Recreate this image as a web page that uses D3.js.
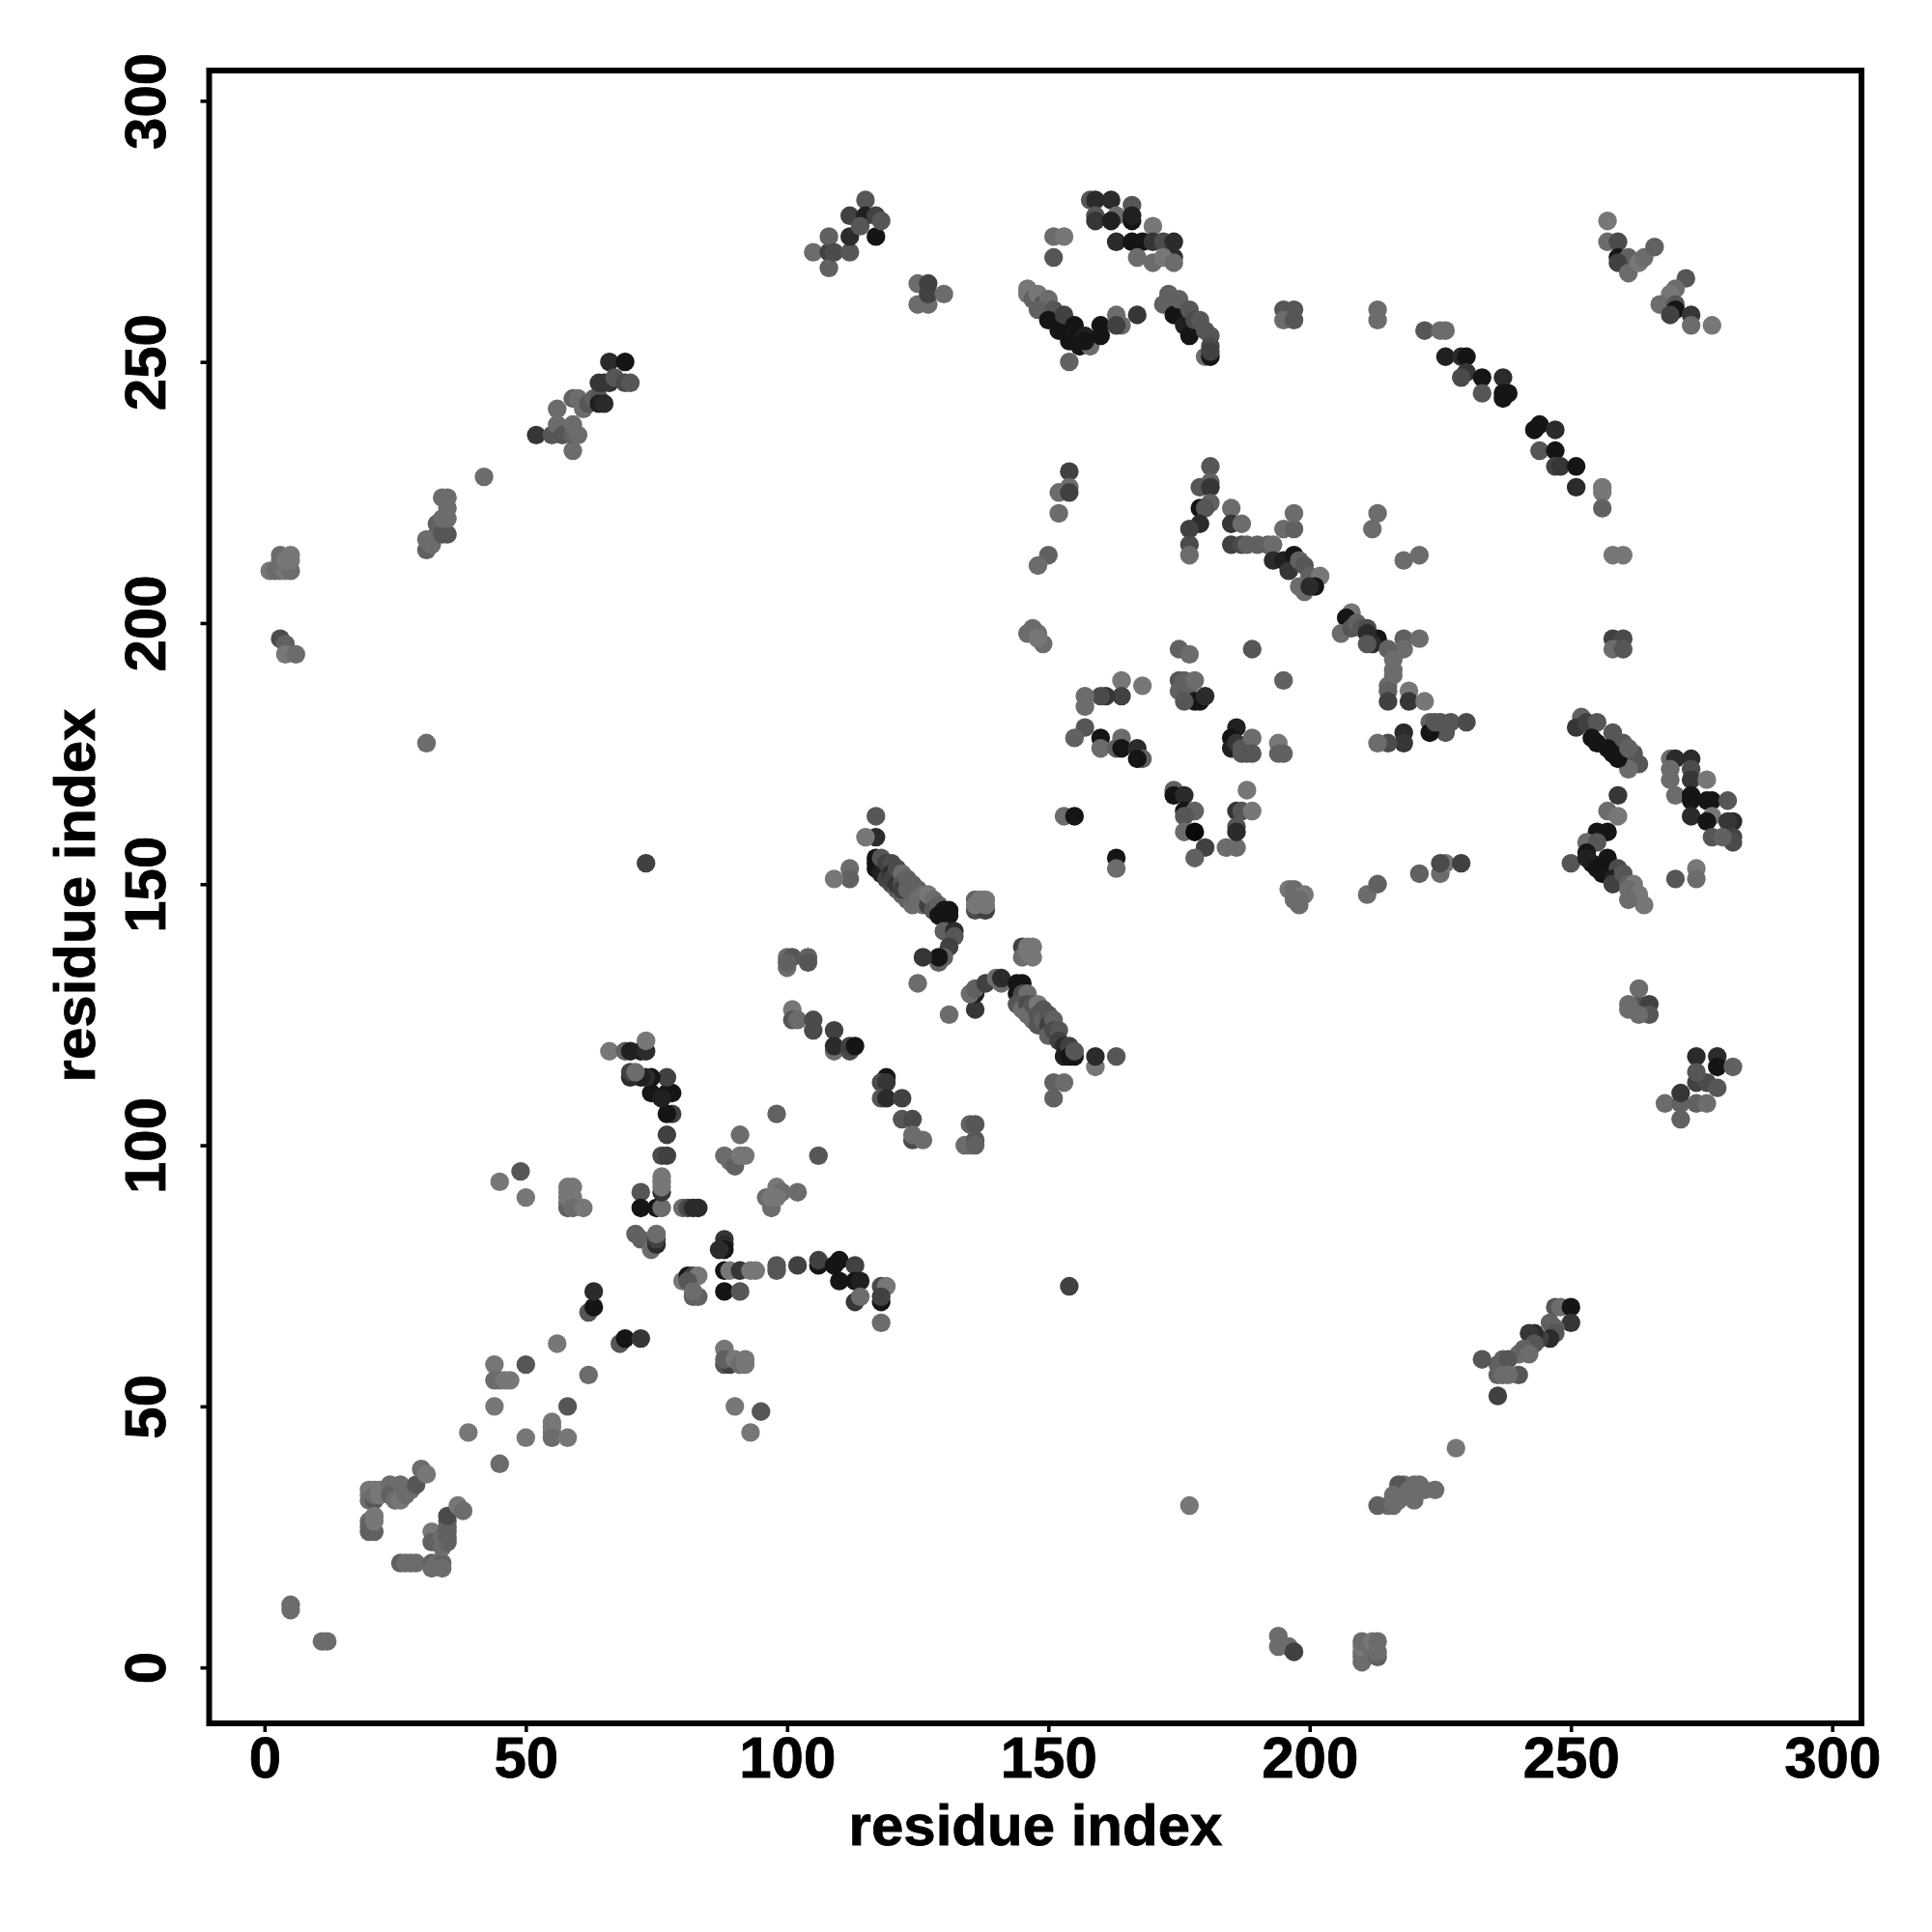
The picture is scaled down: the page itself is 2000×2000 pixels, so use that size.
<!DOCTYPE html>
<html><head><meta charset="utf-8">
<script src="https://cdn.jsdelivr.net/npm/d3@7"></script>
<style>html,body{margin:0;background:#fff}svg{display:block}</style>
</head><body><svg id="c" width="2000" height="2000"></svg>
<script>
// each entry: [residue i, residue j, contact strength 0 (weak) .. 10 (strong)]
const nearTerminus=[[5,12,1],[5,11,1],[11,5,1],[12,5,1],[1,210,0],[2,210,1],[3,210,1],[4,210,0],[5,210,1],[3,212,1],[3,213,1],[5,213,0],[4,212,0],[5,212,0],[3,197,4],[4,196,2],[4,194,0],[6,194,1],[31,177,1],[177,31,0],[210,1,1],[210,2,1],[210,3,1],[210,4,0],[210,5,1],[212,3,1],[212,5,0],[213,2,2],[213,3,1],[213,5,1],[194,6,1],[194,4,1],[196,4,1],[197,3,5]];
const firstBlock=[[20,34,0],[20,33,0],[20,32,1],[21,32,3],[21,34,0],[21,33,1],[22,34,0],[22,33,0],[24,35,1],[24,33,2],[25,32,1],[26,32,0],[26,35,1],[27,33,1],[28,34,1],[29,35,3],[30,38,1],[31,37,0],[20,28,1],[20,27,2],[20,26,2],[21,26,2],[21,28,0],[21,29,0],[26,20,2],[27,20,1],[28,20,1],[29,20,1],[32,20,2],[33,20,1],[34,20,2],[34,19,1],[32,19,1],[32,26,0],[32,24,2],[34,23,1],[35,24,2],[34,25,1],[35,25,2],[35,26,2],[35,27,2],[35,28,2],[35,29,4],[37,31,0],[38,30,1],[39,45,0],[44,58,0],[44,55,1],[45,55,1],[46,55,0],[47,55,0],[50,58,3],[44,50,0],[45,39,1],[50,44,0],[55,47,0],[55,46,0],[55,45,0],[55,44,1],[58,50,3],[58,44,0],[62,56,1],[56,62,0],[62,68,3],[63,69,9],[63,72,7],[68,62,3],[69,63,9],[72,63,6]];
const strandA=[[45,93,0],[49,95,3],[50,90,0],[58,89,1],[58,88,2],[58,92,0],[58,91,0],[58,90,0],[59,92,0],[59,90,0],[59,88,1],[61,88,0],[72,91,3],[72,88,9],[75,88,9],[76,88,1],[76,94,0],[76,93,0],[76,91,6],[76,92,0],[71,83,2],[72,82,2],[74,80,1],[75,81,7],[75,82,5],[75,83,1],[80,88,1],[81,88,4],[82,88,7],[83,88,7],[76,98,4],[77,98,5],[77,102,5],[78,106,5],[77,106,9],[78,110,9],[77,110,9],[74,110,9],[76,109,8],[77,113,5],[74,113,9],[73,113,7],[72,113,8],[70,113,7],[70,114,5],[71,114,1],[66,118,0],[69,118,2],[70,118,8],[72,118,8],[73,118,7],[73,120,0]];
const strandB=[[88,82,6],[88,81,7],[88,80,9],[87,80,7],[80,74,0],[81,75,9],[82,75,5],[83,75,0],[81,74,3],[82,71,2],[83,71,2],[82,72,1],[88,76,9],[89,76,0],[91,76,6],[93,76,0],[94,76,0],[88,72,9],[91,72,3],[98,77,3],[98,76,3],[102,77,5],[106,77,9],[106,78,5],[109,77,9],[110,78,9],[110,74,9],[113,77,5],[113,74,9],[114,74,8],[113,70,6],[114,71,1],[118,73,4],[119,73,0],[118,70,9],[118,71,5],[118,66,1],[88,61,0],[88,58,3],[89,58,5],[88,59,2],[90,59,0],[91,58,1],[92,59,0],[92,58,0],[90,50,0],[95,49,3],[93,45,0]];
const upperDiag=[[88,98,1],[89,97,1],[90,96,2],[91,98,0],[92,98,0],[91,102,1],[98,106,2],[106,98,3],[102,91,1],[98,92,0],[99,91,1],[96,90,1],[97,88,1],[97,89,1],[98,90,0],[97,90,0],[117,163,3],[117,159,7],[115,159,0],[112,153,1],[112,151,2],[109,151,0]];
const diagC=[[117,155,9],[117,154,9],[117,153,9],[118,152,8],[119,151,5],[120,150,4],[121,149,3],[122,148,2],[123,147,2],[124,146,1],[118,155,3],[119,154,5],[120,154,4],[120,152,7],[120,151,5],[121,153,4],[121,150,6],[122,152,1],[122,150,3],[122,149,5],[123,151,2],[123,149,2],[124,150,2],[124,148,2],[125,149,2],[125,147,1],[126,148,1],[126,146,1],[127,146,5],[127,148,0],[128,147,1],[128,145,3],[129,146,2],[129,144,9],[130,145,9],[130,144,9],[131,145,9],[131,144,9],[130,141,2],[132,141,7],[132,140,3],[131,138,5],[130,136,2],[129,135,2],[129,136,9],[126,136,6],[125,131,1]];
const blockD=[[136,147,2],[138,147,0],[136,145,4],[138,145,5],[137,147,0],[136,146,0],[138,146,0],[100,136,1],[101,136,3],[104,136,2],[100,134,1],[100,135,2],[104,135,3],[101,126,0],[101,124,3],[102,124,1],[105,124,4],[105,122,4],[109,122,5],[109,118,1],[109,119,7],[112,118,4],[112,119,5],[113,119,9],[119,113,9],[118,112,4],[119,112,6],[118,109,3],[119,109,7],[122,109,5],[122,105,3],[124,105,4],[124,101,4],[124,102,1],[126,101,1],[134,100,1],[135,100,1],[136,101,3],[136,100,2],[135,104,2],[136,104,3],[131,125,1],[136,126,6],[136,129,8],[135,129,1],[136,130,2],[138,131,5],[140,132,1],[141,131,1],[141,132,7]];
const diagE=[[144,131,9],[145,131,9],[144,129,9],[145,129,4],[146,129,1],[144,127,3],[145,126,1],[146,127,4],[146,125,1],[147,127,3],[147,124,1],[148,127,0],[148,125,3],[148,123,3],[149,126,3],[149,124,2],[150,125,3],[150,123,5],[150,121,2],[151,124,2],[151,122,4],[152,122,3],[152,120,5],[153,119,7],[153,117,8],[154,119,5],[154,117,9],[155,117,9],[155,118,3],[159,115,0],[159,117,7],[163,117,3],[151,112,2],[153,112,1],[151,109,2],[145,138,5],[146,138,0],[147,138,0],[145,136,1],[147,136,0],[146,137,0]];
const topLeftArc=[[31,214,2],[31,216,1],[32,215,1],[33,217,1],[33,219,2],[34,217,3],[35,217,3],[34,220,1],[35,220,1],[35,222,1],[34,224,1],[35,224,1],[42,228,1],[52,236,6],[55,236,3],[56,238,1],[57,236,3],[56,241,1],[59,233,1],[59,236,2],[59,238,1],[60,236,1],[59,243,2],[60,243,1],[61,241,1],[62,242,3],[63,243,2],[64,243,3],[64,246,6],[65,246,6],[66,246,6],[66,250,7],[67,247,3],[69,250,9],[69,246,4],[70,246,3],[64,242,8],[65,242,7]];
const lowerRightArc=[[247,69,3],[248,69,1],[250,69,9],[250,66,6],[246,66,2],[247,65,2],[247,64,3],[246,63,7],[244,63,5],[243,64,7],[242,64,6],[243,62,3],[240,60,1],[241,61,2],[242,60,1],[240,56,3],[237,59,2],[236,58,2],[238,59,3],[233,59,3],[236,56,2],[237,56,1],[238,56,1],[236,52,5],[228,42,0],[224,34,1],[222,34,1],[221,35,1],[220,32,1],[220,35,1],[218,35,1],[217,35,3],[217,32,1],[216,33,1],[215,31,1],[213,31,2],[216,31,1],[219,34,1]];
const upperRowA=[[105,271,1],[108,271,5],[108,268,2],[108,274,2],[109,271,4],[112,271,3],[112,274,7],[112,278,5],[115,281,3],[115,278,8],[117,278,5],[117,274,9],[114,276,3],[118,277,3],[125,265,1],[125,261,1],[127,265,5],[127,261,1],[127,263,5],[130,263,1],[158,281,3],[159,281,7],[162,281,7],[166,280,3],[159,278,3],[159,277,6],[163,278,1],[162,277,8],[166,277,9],[166,278,8],[170,276,0],[163,273,7],[166,273,9],[168,273,9],[170,273,6],[172,273,4],[174,273,7],[174,270,7],[167,270,1],[170,269,1],[172,270,0],[174,269,1],[151,274,1],[153,274,0],[151,270,3]];
const diagF=[[146,264,0],[146,263,0],[147,262,2],[148,263,0],[149,261,3],[150,262,1],[148,260,2],[151,260,3],[150,258,9],[152,256,9],[153,259,5],[154,254,9],[155,257,9],[156,253,9],[157,255,8],[158,253,1],[157,254,9],[160,257,9],[160,255,9],[163,259,1],[164,257,1],[163,257,5],[167,259,6],[154,250,2],[172,261,2],[173,263,2],[174,259,9],[175,262,2],[176,257,8],[177,260,3],[177,255,9],[178,258,4],[179,258,3],[180,256,3],[181,255,3],[180,251,1],[181,251,9],[181,253,4],[181,252,5],[195,260,3],[197,260,3],[195,258,1],[197,258,3],[213,260,1],[213,258,1],[222,256,3],[225,256,1],[226,256,1],[226,251,8],[229,251,7],[230,251,9],[230,248,6],[229,247,4],[233,247,9],[237,247,7],[233,244,3],[237,243,9],[238,244,9],[237,244,9]];
const upperRight=[[244,238,9],[243,237,9],[247,237,7],[244,233,3],[247,233,9],[247,230,5],[248,230,6],[251,230,9],[251,226,7],[256,226,0],[256,225,0],[256,222,2],[257,277,0],[257,273,1],[259,273,4],[259,270,9],[261,270,2],[259,269,5],[261,267,1],[263,269,0],[264,270,1],[266,272,2],[272,266,3],[270,264,1],[269,263,0],[267,261,1],[270,261,3],[270,260,9],[269,259,5],[273,259,6],[273,257,1],[277,257,0],[258,213,0],[260,213,0],[258,197,5],[260,197,4],[258,195,1],[260,195,3]];
const middleTop=[[154,229,5],[154,226,1],[152,225,1],[154,225,5],[152,221,1],[150,213,2],[148,211,1],[147,199,1],[146,198,1],[148,198,1],[149,196,1],[148,197,0],[181,230,3],[181,227,2],[179,226,3],[181,226,6],[181,223,2],[179,222,9],[180,222,3],[179,219,7],[177,218,5],[177,215,4],[177,213,1],[185,222,1],[185,219,6],[187,219,1],[185,215,5],[187,215,4],[188,215,2],[190,215,2],[192,215,2],[193,215,1],[195,218,1],[197,218,2],[197,221,1],[193,212,7],[195,212,8],[197,213,9],[196,210,6],[198,212,2],[199,211,3],[200,209,2],[202,209,0],[198,207,1],[201,207,9],[199,206,1],[200,207,7],[213,221,1],[212,218,1],[218,212,1],[221,213,1]];
const middleRight=[[208,202,0],[207,201,9],[206,198,1],[208,199,3],[209,200,2],[210,199,3],[211,199,4],[213,197,9],[211,198,7],[212,196,7],[211,196,3],[218,197,2],[221,197,1],[218,195,1],[215,195,2],[216,193,1],[216,191,1],[216,190,1],[215,188,1],[215,187,2],[215,185,5],[219,187,0],[219,185,6],[222,185,0],[223,181,2],[227,181,3],[230,181,4],[226,179,3],[223,179,9],[218,179,7],[218,177,6],[215,177,4],[213,177,1],[224,181,3],[225,181,3]];
const middleCore=[[189,195,3],[195,189,2],[175,195,2],[177,194,1],[175,189,3],[176,189,2],[177,188,2],[178,189,1],[175,187,2],[178,185,9],[179,185,9],[176,185,3],[180,186,7],[168,188,0],[164,189,0],[164,186,5],[161,186,6],[160,186,4],[157,186,1],[157,184,1],[157,180,3],[155,178,2],[160,178,9],[160,176,1],[164,178,1],[163,176,2],[164,176,9],[167,176,7],[168,174,2],[167,174,9],[186,180,8],[185,178,9],[185,176,8],[186,177,6],[187,176,3],[189,178,1],[188,175,3],[187,175,3],[189,175,3],[194,177,0],[195,175,2],[194,175,2]];
const lowerMiddle=[[153,163,1],[155,163,9],[163,155,9],[163,153,1],[174,168,2],[174,167,9],[176,167,7],[176,164,9],[178,164,2],[176,163,3],[176,160,1],[178,160,10],[180,157,5],[178,155,2],[184,157,1],[186,157,1],[186,164,6],[187,164,3],[189,164,0],[186,161,3],[186,160,7],[188,168,0],[196,149,0],[197,149,1],[199,148,0],[198,146,1],[197,147,1],[198,147,1],[211,148,1],[213,150,2],[221,152,2],[225,152,1],[226,154,0],[225,154,4],[229,154,5]];
const rightBlock=[[252,182,2],[251,180,6],[253,181,5],[255,181,3],[258,179,3],[260,177,3],[262,175,3],[263,173,3],[261,172,1],[255,177,9],[254,178,9],[257,176,9],[258,175,9],[259,174,9],[261,176,2],[269,174,1],[270,174,7],[273,174,7],[269,172,1],[269,170,1],[273,172,4],[273,170,6],[276,170,0],[270,167,1],[273,167,9],[273,166,9],[276,166,9],[277,166,9],[280,166,3],[273,163,7],[277,163,0],[276,162,9],[281,162,7],[280,162,6],[277,159,3],[281,159,5],[281,158,4],[279,159,2],[259,167,6],[257,164,1],[259,163,0],[257,160,9],[255,160,9],[253,158,1],[255,158,3],[250,154,3],[253,156,9],[254,154,9],[253,155,8],[257,155,9],[255,153,9],[256,152,9],[259,153,4],[258,151,8],[258,150,5],[260,152,3],[261,150,2],[262,150,0],[261,149,1],[263,148,0],[264,146,0],[261,147,1],[270,151,3],[274,153,0],[274,151,1]];
const bottomRight=[[154,73,5],[73,154,5],[268,108,1],[271,105,2],[271,108,2],[271,110,6],[274,117,7],[278,117,7],[274,112,5],[276,112,4],[278,111,3],[278,115,9],[281,115,2],[274,108,2],[276,108,1],[274,114,3],[263,127,3],[265,127,5],[263,130,1],[261,126,1],[261,127,1],[265,125,3],[263,125,1]];
const groups=[firstBlock,nearTerminus,strandA,strandB,upperDiag,diagC,blockD,diagE,topLeftArc,lowerRightArc,upperRowA,diagF,upperRight,middleTop,middleRight,middleCore,lowerMiddle,rightBlock,bottomRight];
const tickValues=[0,50,100,150,200,250,300];
const axisTitle="residue index";

const svg=d3.select("#c");
const boxLeft=216.5,boxRight=1927,boxTop=73,boxBottom=1784;
const x=d3.scaleLinear().domain([-10.6,305.6]).range([216.5,1927]);
const y=d3.scaleLinear().domain([-10.7,305.8]).range([1784,73]);
const shade=d3.scaleLinear().domain([0,10]).range(["#777777","#0a0a0a"]);
const font='"Liberation Sans",Arial,sans-serif';

svg.append("rect").attr("width",2000).attr("height",2000).attr("fill","#fff");
const plot=svg.append("g");
groups.forEach(g=>{
  plot.selectAll(null).data(g).join("circle")
    .attr("cx",d=>x(d[0])).attr("cy",d=>y(d[1])).attr("r",9.7).attr("fill",d=>shade(d[2]));
});
const gx=svg.append("g").attr("transform",`translate(0,${boxBottom})`)
  .call(d3.axisBottom(x).tickValues(tickValues).tickSize(9).tickFormat(d3.format("d")));
const gy=svg.append("g").attr("transform",`translate(${boxLeft},0)`)
  .call(d3.axisLeft(y).tickValues(tickValues).tickSize(9).tickFormat(d3.format("d")));
[gx,gy].forEach(a=>{a.select(".domain").remove();
  a.selectAll("line").attr("stroke","#000").attr("stroke-width",3.6);
  a.selectAll("text").attr("fill","#000").attr("font-family",font).attr("font-weight","bold").attr("font-size",60).attr("dy",null)
    .attr("stroke","#000").attr("stroke-width",0.8);});
gx.selectAll("text").attr("y",56);
gy.selectAll("text").attr("x",0).attr("y",0).attr("text-anchor","middle")
  .attr("transform",`translate(${170.5-boxLeft},0) rotate(-90)`);
svg.append("rect").attr("x",boxLeft).attr("y",boxTop).attr("width",boxRight-boxLeft).attr("height",boxBottom-boxTop)
  .attr("fill","none").attr("stroke","#000").attr("stroke-width",6);
svg.append("text").text(axisTitle).attr("x",1072).attr("y",1910).attr("text-anchor","middle")
  .attr("font-family",font).attr("font-weight","bold").attr("font-size",60).attr("stroke","#000").attr("stroke-width",0.8);
svg.append("text").text(axisTitle).attr("transform","translate(98,927) rotate(-90)").attr("text-anchor","middle")
  .attr("font-family",font).attr("font-weight","bold").attr("font-size",60).attr("stroke","#000").attr("stroke-width",0.8);
</script></body></html>
